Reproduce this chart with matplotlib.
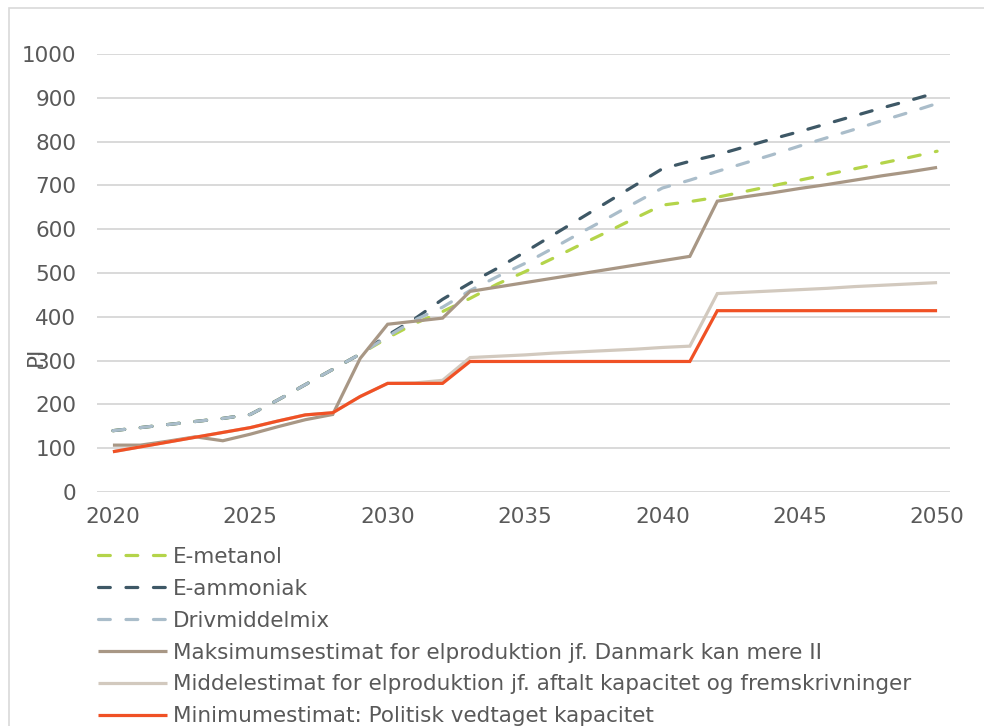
import matplotlib
matplotlib.use("Agg")
import matplotlib.pyplot as plt
from matplotlib.patches import Rectangle
import numpy as np

years = np.arange(2020, 2051)

e_metanol = [140, 147, 154, 161, 168, 177, 210, 245, 280, 315, 352,
             385, 412, 442, 475, 503, 533, 564, 594, 625, 655,
             663, 673, 686, 699, 712, 725, 738, 751, 764, 778]
e_ammoniak = [140, 147, 154, 161, 168, 177, 210, 245, 280, 315, 358,
              396, 440, 477, 511, 548, 586, 624, 662, 700, 738,
              755, 770, 788, 806, 823, 841, 859, 877, 894, 912]
drivmiddelmix = [140, 147, 154, 161, 168, 177, 210, 245, 280, 315, 355,
                 393, 422, 460, 492, 522, 556, 591, 625, 660, 694,
                 712, 732, 751, 770, 790, 809, 828, 848, 867, 887]
maksimum = [107, 107, 116, 126, 117, 132, 149, 165, 177, 305, 383,
            390, 397, 458, 468, 478, 488, 498, 508, 518, 528,
            538, 664, 674, 683, 693, 702, 712, 722, 731, 741]
middel = [92, 103, 114, 125, 136, 147, 162, 176, 181, 218, 248,
          249, 255, 307, 310, 313, 317, 320, 323, 326, 330,
          333, 453, 456, 459, 462, 465, 469, 472, 475, 478]
minimum = [92, 103, 114, 125, 136, 147, 162, 176, 181, 218, 248,
           248, 248, 298, 298, 298, 298, 298, 298, 298, 298,
           298, 414, 414, 414, 414, 414, 414, 414, 414, 414]

labels = ["E-metanol", "E-ammoniak", "Drivmiddelmix",
          "Maksimumsestimat for elproduktion jf. Danmark kan mere II",
          "Middelestimat for elproduktion jf. aftalt kapacitet og fremskrivninger",
          "Minimumestimat: Politisk vedtaget kapacitet"]
colors = ["#b4d44a", "#3e5866", "#aabdca", "#a89785", "#d2c9be", "#f05125"]

fs = 15.5
plt.rcParams.update({
    'font.family': ['DejaVu Sans'],
    'font.size': fs,
    'text.color': '#595959',
    'xtick.color': '#595959',
    'ytick.color': '#595959',
})

fig = plt.figure(figsize=(9.84, 7.26), dpi=100)
ax = fig.add_axes([97 / 984, 1 - 492 / 726, (950 - 97) / 984, (492 - 54) / 726])

lw = 2.3
series = [e_metanol, e_ammoniak, drivmiddelmix, maksimum, middel, minimum]
for i, (vals, lab, col) in enumerate(zip(series, labels, colors)):
    if i < 3:
        ax.plot(years, vals, color=col, lw=lw, label=lab, dashes=(3.7, 4.9),
                dash_capstyle='round', solid_joinstyle='round')
    else:
        ax.plot(years, vals, color=col, lw=lw, label=lab,
                solid_capstyle='butt', solid_joinstyle='miter')

ax.set_xlim(2019.42, 2050.47)
ax.set_ylim(0, 1000)
ax.set_xticks(np.arange(2020, 2051, 5))
ax.set_yticks(np.arange(0, 1001, 100))
ax.yaxis.grid(True, color='#d9d9d9', lw=1.4)
ax.set_axisbelow(True)
for s in ax.spines.values():
    s.set_visible(False)
ax.tick_params(axis='y', length=0, pad=15)
ax.tick_params(axis='x', length=0, pad=11)

fig.text(36 / 984, 1 - 356 / 726, "PJ", rotation=90, ha='center', va='center',
         fontsize=fs, color='#595959')

fig.legend(loc='upper left', bbox_to_anchor=(98 / 984, 1 - 547 / 726),
           frameon=False, handlelength=3.2, handletextpad=0.3,
           labelspacing=0.55, borderaxespad=0, borderpad=0)

fig.patches.append(Rectangle((9 / 984, -0.5), 2.0, 1.5 - 8 / 726,
                             transform=fig.transFigure, fill=False,
                             edgecolor='#d9d9d9', lw=1.2))

fig.savefig("out.png", dpi=100)
